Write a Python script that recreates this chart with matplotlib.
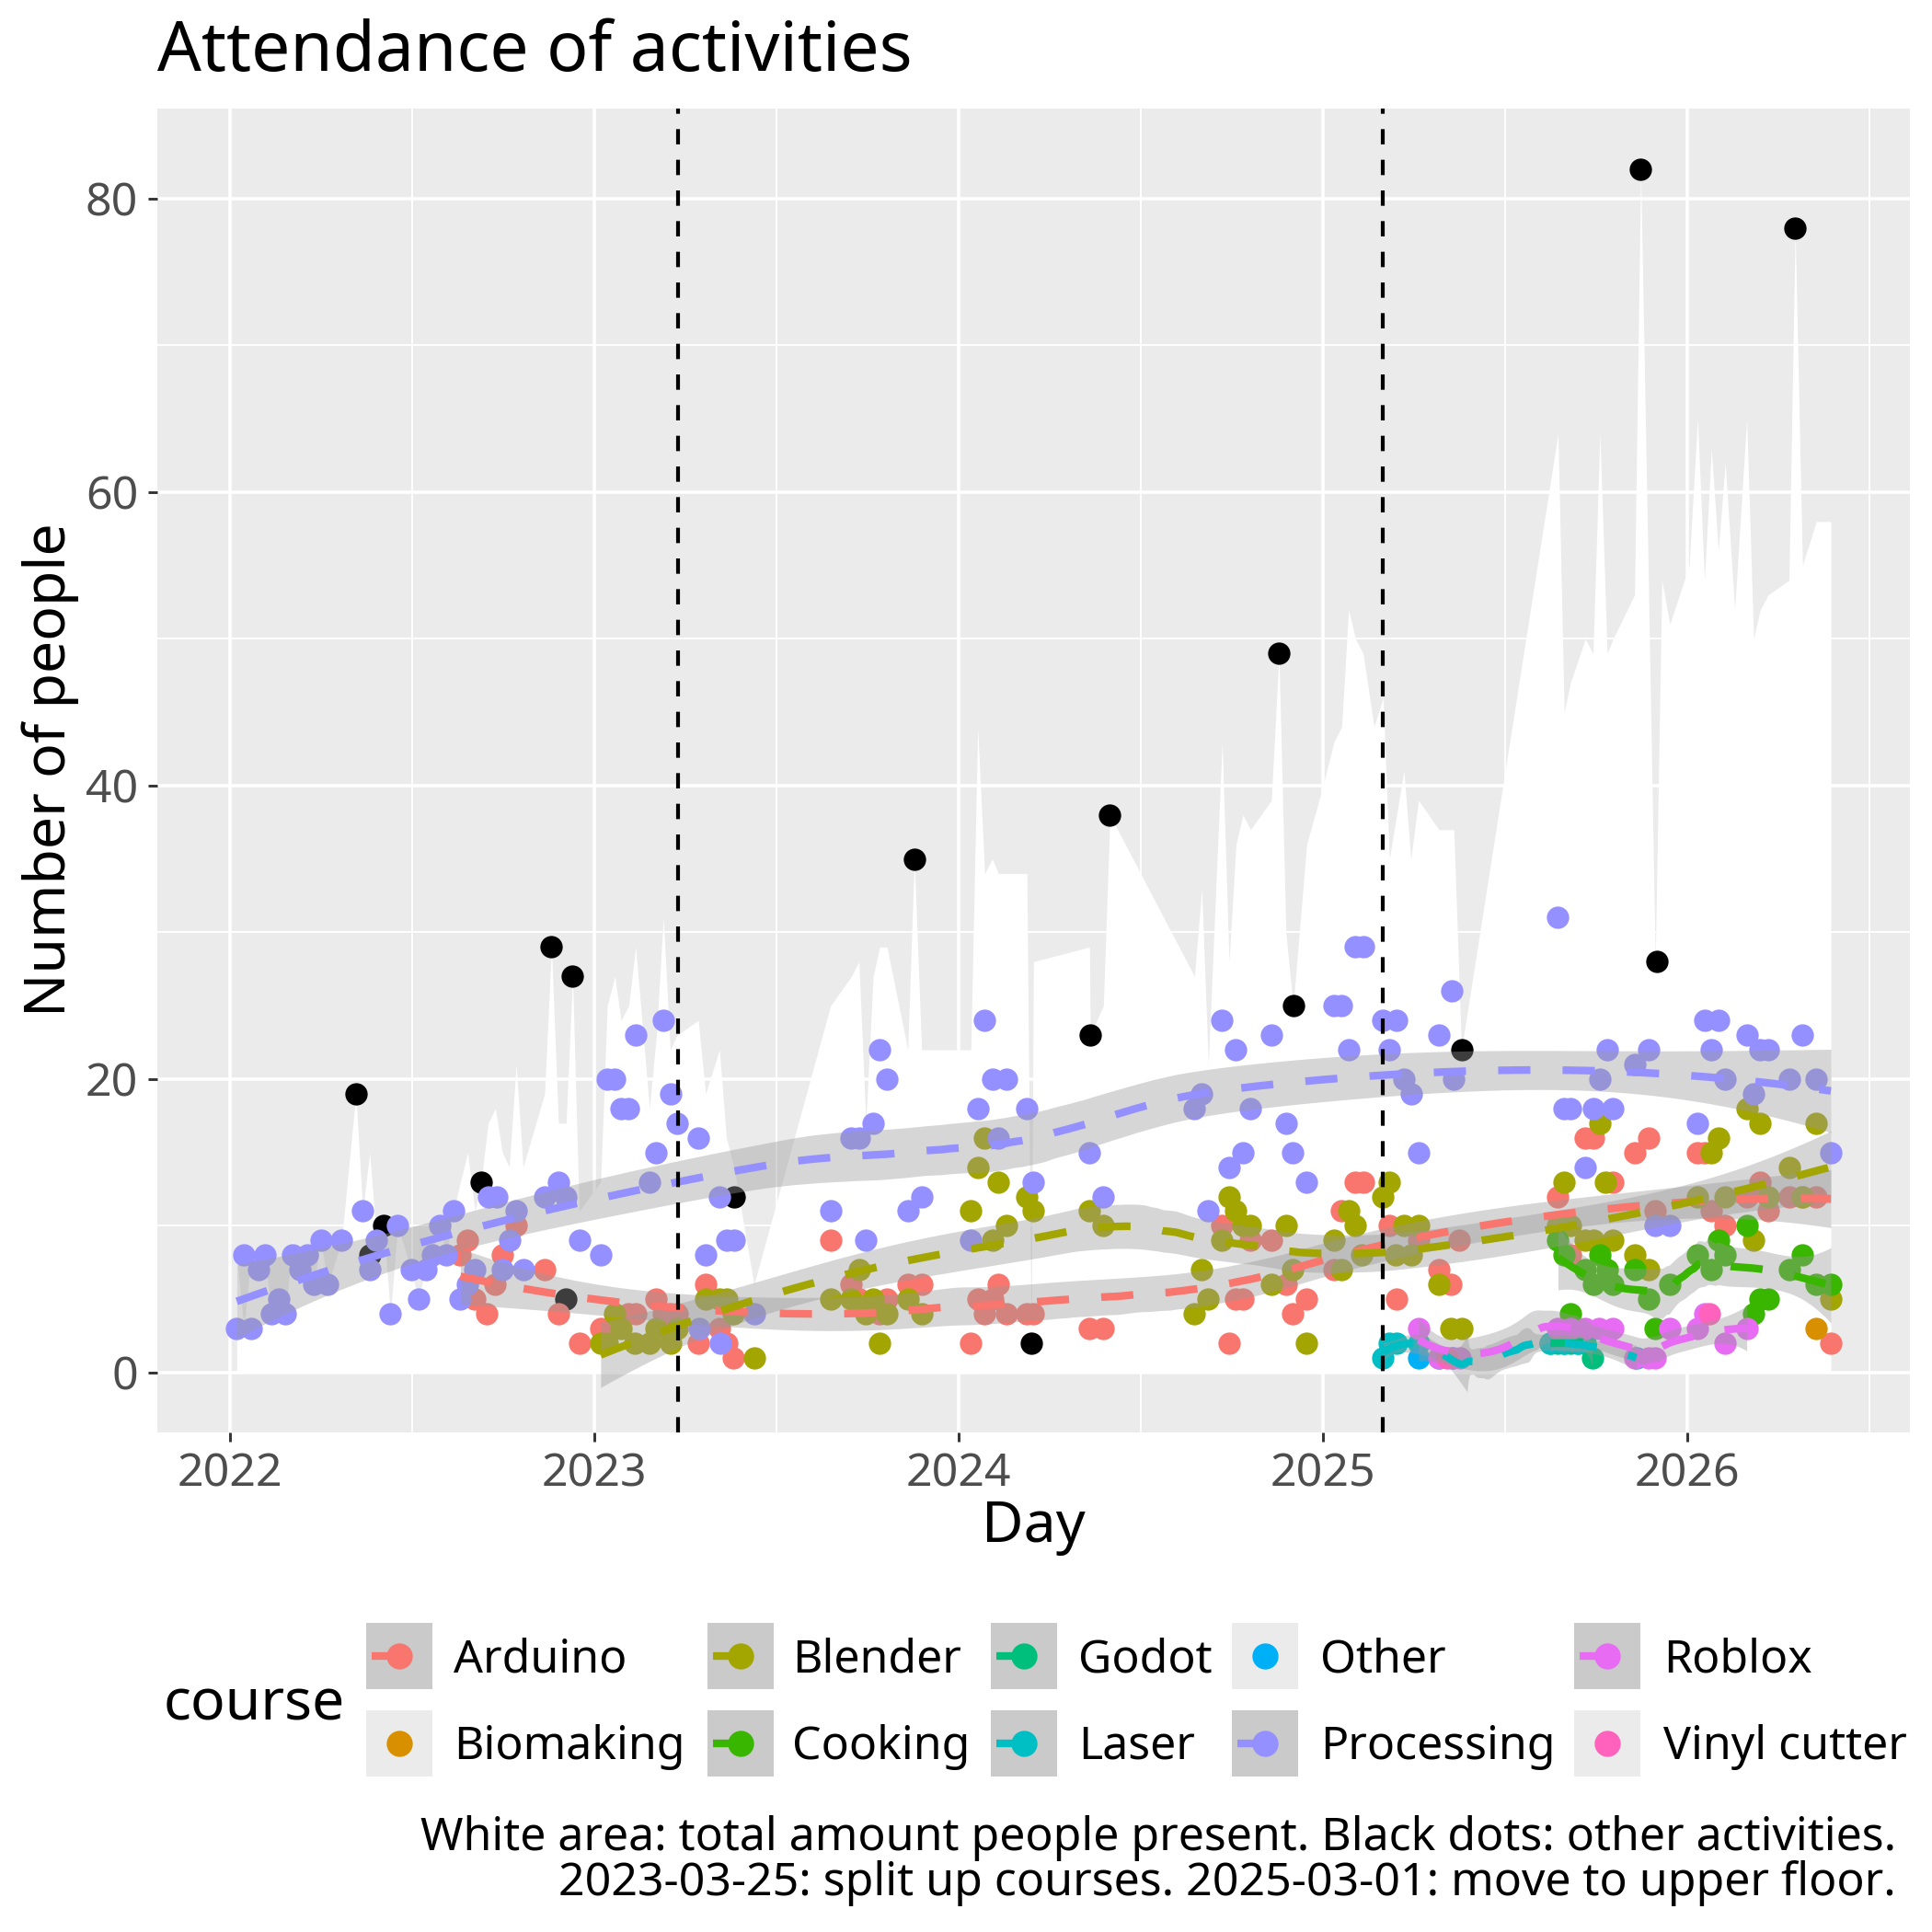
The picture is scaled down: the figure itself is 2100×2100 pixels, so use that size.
import numpy as np
import matplotlib
matplotlib.use("Agg")
import matplotlib.pyplot as plt
from matplotlib.patches import Rectangle
from matplotlib.lines import Line2D

plt.rcParams['font.family'] = ['Noto Sans', 'DejaVu Sans']

# ---------------- data (decimal year, number of people) ----------------
courses = ["Arduino", "Biomaking", "Blender", "Cooking", "Godot",
           "Laser", "Other", "Processing", "Roblox", "Vinyl cutter"]
colors = ["#F8766D", "#D89000", "#A3A500", "#39B600", "#00BF7D",
          "#00BFC4", "#00B0F6", "#9590FF", "#E76BF3", "#FF62BC"]
has_smooth = [True, False, True, True, True, True, False, True, True, False]

arduino_day = [2022.632, 2022.652, 2022.672, 2022.705, 2022.728, 2022.747, 2022.785, 2022.863,
               2022.901, 2022.960, 2023.017, 2023.035, 2023.093, 2023.113, 2023.170, 2023.189,
               2023.208, 2023.227, 2023.305, 2023.285, 2023.343, 2023.362, 2023.381,
               2023.648, 2023.705, 2023.726, 2023.783, 2023.803, 2023.860, 2023.898, 2024.033,
               2024.052, 2024.071, 2024.092, 2024.109, 2024.130, 2024.187, 2024.205, 2024.359,
               2024.397, 2024.723, 2024.761, 2024.780, 2024.742, 2024.801, 2024.858, 2024.898,
               2024.917, 2024.955, 2025.030, 2025.051, 2025.089, 2025.110, 2025.182, 2025.203,
               2025.262, 2025.318, 2025.350, 2025.374, 2025.645, 2025.720, 2025.741, 2025.679,
               2025.796, 2025.855, 2025.893, 2025.912, 2026.028, 2026.047, 2026.066, 2026.104,
               2026.163, 2026.200, 2026.222, 2026.279, 2026.316, 2026.354, 2026.394]
arduino_people = [8, 9, 5, 4, 6, 8, 10, 7,
                  4, 2, 3, 3, 4, 4, 5, 4,
                  4, 4, 6, 2, 3, 2, 1,
                  9, 6, 5, 4, 5, 6, 6, 2,
                  5, 4, 5, 6, 4, 4, 4, 3,
                  3, 10, 5, 5, 2, 9, 9, 6,
                  4, 5, 7, 11, 13, 13, 10, 5,
                  9, 7, 6, 9, 12, 16, 16, 8,
                  13, 15, 16, 11, 15, 15, 11, 10,
                  12, 13, 11, 12, 12, 12, 2]

biomaking_day = [2026.354]
biomaking_people = [3]

blender_day = [2023.017, 2023.035, 2023.055, 2023.073, 2023.111, 2023.151, 2023.170, 2023.208,
               2023.227, 2023.305, 2023.343, 2023.362, 2023.381, 2023.438,
               2023.648, 2023.705, 2023.726, 2023.745, 2023.765, 2023.803, 2023.783, 2023.860,
               2023.898, 2024.033, 2024.052, 2024.071, 2024.092, 2024.109, 2024.130, 2024.187,
               2024.205, 2024.359, 2024.397,
               2024.647, 2024.667, 2024.685, 2024.723, 2024.742, 2024.761, 2024.780, 2024.801,
               2024.858, 2024.898, 2024.917, 2024.955, 2025.030, 2025.051, 2025.070, 2025.089,
               2025.106, 2025.163, 2025.182, 2025.200, 2025.222, 2025.241, 2025.262, 2025.318,
               2025.350, 2025.380, 2025.645, 2025.662, 2025.679, 2025.720, 2025.741, 2025.760,
               2025.776, 2025.796, 2025.855, 2025.893, 2026.028, 2026.066, 2026.085, 2026.104,
               2026.163, 2026.182, 2026.200, 2026.222, 2026.279, 2026.316, 2026.354, 2026.394]
blender_people = [2, 2, 4, 3, 2, 2, 3, 2,
                  3, 5, 5, 5, 4, 1,
                  5, 5, 7, 4, 5, 4, 2, 5,
                  4, 11, 14, 16, 9, 13, 10, 12,
                  11, 11, 10,
                  4, 7, 5, 9, 12, 11, 10, 10,
                  6, 10, 7, 2, 9, 7, 11, 10,
                  8, 12, 13, 8, 10, 8, 10, 6,
                  3, 3, 10, 13, 10, 9, 9, 17,
                  13, 9, 8, 7, 12, 15, 16, 12,
                  18, 9, 17, 12, 14, 12, 17, 5]

cooking_day = [2025.645, 2025.662, 2025.679, 2025.720, 2025.741, 2025.760, 2025.780, 2025.796,
               2025.855, 2025.893, 2025.912, 2025.952, 2026.028, 2026.066, 2026.085, 2026.104,
               2026.163, 2026.182, 2026.200, 2026.222, 2026.279, 2026.316, 2026.354, 2026.394]
cooking_people = [9, 8, 4, 7, 6, 8, 7, 6,
                  7, 5, 3, 6, 8, 7, 9, 8,
                  10, 4, 5, 5, 7, 8, 6, 6]

godot_day = [2025.624, 2025.645, 2025.662, 2025.680, 2025.700, 2025.720, 2025.739]
godot_people = [2, 2, 2, 2, 2, 2, 1]

laser_day = [2025.165, 2025.182, 2025.203, 2025.262, 2025.318, 2025.357,
             2025.624, 2025.662, 2025.700, 2025.860]
laser_people = [1, 2, 2, 2, 1, 1,
                2, 2, 2, 1]

other_course_day = [2025.262]
other_course_people = [1]

processing_day = [2022.018, 2022.057, 2022.038, 2022.095, 2022.077, 2022.134, 2022.114, 2022.152,
                  2022.171, 2022.211, 2022.192, 2022.230, 2022.268, 2022.249, 2022.306, 2022.364,
                  2022.402, 2022.383, 2022.460, 2022.440, 2022.497, 2022.537, 2022.516, 2022.554,
                  2022.575, 2022.594, 2022.613, 2022.632, 2022.652, 2022.672, 2022.708, 2022.732,
                  2022.785, 2022.766, 2022.747, 2022.804, 2022.863, 2022.901, 2022.922, 2022.958,
                  2023.017, 2023.035, 2023.056, 2023.073, 2023.094, 2023.113, 2023.151, 2023.170,
                  2023.189, 2023.208, 2023.227, 2023.285, 2023.343, 2023.362, 2023.383, 2023.305,
                  2023.287, 2023.345, 2023.438,
                  2023.648, 2023.705, 2023.726, 2023.765, 2023.783, 2023.803, 2023.745, 2023.860,
                  2023.898, 2024.033, 2024.052, 2024.071, 2024.092, 2024.130, 2024.109, 2024.187,
                  2024.205, 2024.359, 2024.397,
                  2024.647, 2024.667, 2024.685, 2024.723, 2024.761, 2024.742, 2024.780, 2024.801,
                  2024.858, 2024.898, 2024.917, 2024.955, 2025.030, 2025.051, 2025.070, 2025.089,
                  2025.110, 2025.165, 2025.203, 2025.182, 2025.222, 2025.241, 2025.262, 2025.318,
                  2025.354, 2025.359,
                  2025.645, 2025.662, 2025.679, 2025.720, 2025.741, 2025.796, 2025.760, 2025.780,
                  2025.855, 2025.893, 2025.912, 2025.952, 2026.028, 2026.047, 2026.085, 2026.066,
                  2026.104, 2026.163, 2026.182, 2026.200, 2026.222, 2026.279, 2026.316, 2026.354,
                  2026.394]
processing_people = [3, 3, 8, 8, 7, 5, 4, 4,
                     8, 8, 7, 6, 6, 9, 9, 11,
                     9, 7, 10, 4, 7, 7, 5, 8,
                     10, 8, 11, 5, 6, 7, 12, 12,
                     11, 9, 7, 7, 12, 13, 12, 9,
                     8, 20, 20, 18, 18, 23, 13, 15,
                     24, 19, 17, 16, 12, 9, 9, 8,
                     3, 2, 4,
                     11, 16, 16, 17, 22, 20, 9, 11,
                     12, 9, 18, 24, 20, 20, 16, 18,
                     13, 15, 12,
                     18, 19, 11, 24, 22, 14, 15, 18,
                     23, 17, 15, 13, 25, 25, 22, 29,
                     29, 24, 24, 22, 20, 19, 15, 23,
                     26, 20,
                     31, 18, 18, 14, 18, 18, 20, 22,
                     21, 22, 10, 10, 17, 24, 24, 22,
                     20, 23, 19, 22, 22, 20, 23, 20,
                     15]

roblox_day = [2025.262, 2025.318, 2025.357, 2025.375, 2025.645, 2025.679, 2025.720, 2025.758,
              2025.796, 2025.855, 2025.893, 2025.912, 2025.952, 2026.028, 2026.047, 2026.104,
              2026.163]
roblox_people = [3, 1, 1, 1, 3, 3, 3, 3,
                 3, 1, 1, 1, 3, 3, 4, 2,
                 3]

vinyl_day = [2025.340, 2026.060]
vinyl_people = [1, 4]

course_days = [arduino_day, biomaking_day, blender_day, cooking_day, godot_day,
               laser_day, other_course_day, processing_day, roblox_day, vinyl_day]
course_people = [arduino_people, biomaking_people, blender_people, cooking_people, godot_people,
                 laser_people, other_course_people, processing_people, roblox_people, vinyl_people]

# other activities (black dots)
activity_day = [2022.345, 2022.383, 2022.421, 2022.689, 2022.882, 2022.922, 2022.940, 2023.383,
                2023.878, 2024.199, 2024.361, 2024.415, 2024.879, 2024.918, 2025.380, 2025.872,
                2025.916, 2026.296]
activity_people = [19, 8, 10, 13, 29, 5, 27, 12,
                   35, 2, 23, 38, 49, 25, 22, 82,
                   28, 78]

# total amount of people present (white area)
total_day = [2022.018, 2022.038, 2022.057, 2022.077, 2022.095, 2022.114, 2022.134, 2022.152,
             2022.171, 2022.192, 2022.211, 2022.230, 2022.249, 2022.268, 2022.306, 2022.345,
             2022.364, 2022.383, 2022.402, 2022.421, 2022.440, 2022.460, 2022.497, 2022.516,
             2022.537, 2022.554, 2022.575, 2022.594, 2022.613, 2022.632, 2022.652, 2022.672,
             2022.689, 2022.708, 2022.728, 2022.747, 2022.766, 2022.785, 2022.804, 2022.863,
             2022.882, 2022.901, 2022.922, 2022.940, 2022.958, 2023.017, 2023.035, 2023.056,
             2023.073, 2023.094, 2023.113, 2023.151, 2023.170, 2023.189, 2023.208, 2023.227,
             2023.285, 2023.305, 2023.343, 2023.362, 2023.383, 2023.438, 2023.648, 2023.705,
             2023.726, 2023.745, 2023.765, 2023.783, 2023.803, 2023.860, 2023.878, 2023.898,
             2024.033, 2024.052, 2024.071, 2024.092, 2024.109, 2024.130, 2024.187, 2024.199,
             2024.205, 2024.359, 2024.361, 2024.397, 2024.415, 2024.647, 2024.667, 2024.685,
             2024.723, 2024.742, 2024.761, 2024.780, 2024.801, 2024.858, 2024.879, 2024.898,
             2024.918, 2024.955, 2025.000, 2025.030, 2025.051, 2025.070, 2025.089, 2025.110,
             2025.140, 2025.165, 2025.182, 2025.222, 2025.241, 2025.262, 2025.318, 2025.359,
             2025.380, 2025.645, 2025.662, 2025.679, 2025.720, 2025.741, 2025.760, 2025.780,
             2025.796, 2025.855, 2025.872, 2025.893, 2025.912, 2025.930, 2025.952, 2026.005,
             2026.028, 2026.047, 2026.066, 2026.085, 2026.104, 2026.130, 2026.163, 2026.182,
             2026.200, 2026.222, 2026.279, 2026.296, 2026.316, 2026.354, 2026.394]
total_people = [8, 3, 8, 7, 8, 4, 5, 4,
                9, 7, 8, 6, 9, 6, 9, 19,
                11, 15, 9, 10, 4, 10, 7, 5,
                7, 8, 10, 8, 11, 13, 15, 11,
                13, 17, 18, 15, 14, 21, 14, 19,
                29, 17, 17, 27, 11, 13, 25, 27,
                24, 25, 29, 18, 23, 31, 22, 23,
                24, 19, 22, 16, 14, 6, 25, 27,
                28, 17, 27, 29, 29, 22, 35, 22,
                22, 44, 34, 35, 34, 34, 34, 2,
                28, 29, 23, 25, 38, 27, 33, 21,
                43, 28, 36, 38, 37, 39, 49, 30,
                25, 36, 40, 43, 44, 52, 50, 49,
                44, 46, 35, 41, 35, 39, 37, 37,
                22, 64, 45, 47, 50, 49, 64, 49,
                50, 53, 82, 54, 28, 54, 51, 55,
                65, 54, 63, 56, 62, 52, 65, 50,
                52, 53, 54, 78, 55, 58, 58]

split_day = 2023.23    # 2023-03-25
move_day = 2025.165    # 2025-03-01


# ---------------- loess (as geom_smooth: span 0.75, degree 2) ----------------
def t975(df):
    z = 1.959964
    if df < 1:
        return 12.7
    g1 = (z**3 + z) / 4
    g2 = (5 * z**5 + 16 * z**3 + 3 * z) / 96
    g3 = (3 * z**7 + 19 * z**5 + 17 * z**3 - 15 * z) / 384
    return min(z + g1 / df + g2 / df**2 + g3 / df**3, 12.7)


def loess(x, y, grid, span=0.75):
    x = np.asarray(x, float)
    y = np.asarray(y, float)
    n = len(x)
    q = min(n, max(int(np.floor(n * span)), 3))

    def lrow(x0):
        d = np.abs(x - x0)
        h = max(np.sort(d)[q - 1], 1e-9)
        u = d / h
        w = np.where(u < 1, (1 - u**3)**3, 0.0)
        X = np.column_stack([np.ones(n), x - x0, (x - x0)**2])
        XtW = X.T * w
        return np.linalg.pinv(XtW @ X)[0] @ XtW

    Lg = np.array([lrow(g) for g in grid])
    Ld = np.array([lrow(v) for v in x])
    fit = Lg @ y
    R = np.eye(n) - Ld
    RtR = R.T @ R
    d1 = np.trace(RtR)
    d2 = np.trace(RtR @ RtR)
    res = R @ y
    sigma = np.sqrt(np.sum(res**2) / d1) if d1 > 1e-9 else 0.0
    se = sigma * np.sqrt(np.sum(Lg**2, axis=1))
    t = t975(d1**2 / d2) if d2 > 1e-9 else 12.7
    return fit, fit - t * se, fit + t * se


# ---------------- figure ----------------
W = 2100


def fx(px):
    return px / W


def fy(py):
    return 1 - py / W


fig = plt.figure(figsize=(7, 7), dpi=300)
ax = fig.add_axes([fx(171), fy(1557), fx(2076) - fx(171), fy(118) - fy(1557)])
ax.set_facecolor("#EBEBEB")
for s in ax.spines.values():
    s.set_visible(False)

ax.fill_between(total_day, 0, total_people, color="white", lw=0, zorder=1)
ax.scatter(activity_day, activity_people, s=34, c="black", lw=0, zorder=2)
for days, people, col in zip(course_days, course_people, colors):
    ax.scatter(days, people, s=34, c=col, lw=0, zorder=3)

for days, people, col, sm in zip(course_days, course_people, colors, has_smooth):
    if not sm:
        continue
    grid = np.linspace(min(days), max(days), 200)
    fit, lo, hi = loess(days, people, grid)
    ax.fill_between(grid, lo, hi, color="#999999", alpha=0.4, lw=0, zorder=4)
    ax.plot(grid, fit, color=col, lw=2.0, ls=(0, (4.2, 4.2)), zorder=5)

ax.axvline(split_day, color="black", lw=1.0, ls=(0, (4, 4)), zorder=6)
ax.axvline(move_day, color="black", lw=1.0, ls=(0, (4, 4)), zorder=6)

ax.set_xlim(2021.80, 2026.611)
ax.set_ylim(-4.08, 86.14)
ax.set_xticks([2022, 2023, 2024, 2025, 2026])
ax.set_xticklabels(["2022", "2023", "2024", "2025", "2026"])
ax.set_xticks([2022.5, 2023.5, 2024.5, 2025.5, 2026.5], minor=True)
ax.set_yticks([0, 20, 40, 60, 80])
ax.set_yticks([10, 30, 50, 70], minor=True)
ax.set_axisbelow(True)
ax.grid(which="major", color="white", lw=0.85)
ax.grid(which="minor", color="white", lw=0.45)
ax.tick_params(which="major", length=2.4, width=0.7, color="#333333",
               labelsize=12, labelcolor="#4D4D4D", pad=2.6)
ax.tick_params(which="minor", length=0)

# titles
fig.text(fx(171), fy(77), "Attendance of activities", fontsize=18, va="baseline", ha="left")
fig.text(fx(1123), fy(1676), "Day", fontsize=15, va="baseline", ha="center")
fig.text(fx(71), fy(837), "Number of people", fontsize=15, rotation=90,
         rotation_mode="anchor", ha="center", va="baseline")

# legend
fig.text(fx(178), fy(1870), "course", fontsize=15, va="baseline", ha="left")
key_left = [398, 769, 1077, 1339, 1711]
text_left = [493, 861, 1172, 1435, 1808]
row_top = [1764, 1859]
row_base = [1817, 1912]
K = 72
for i, (name, col, sm) in enumerate(zip(courses, colors, has_smooth)):
    c, r = i // 2, i % 2
    kx, ky = key_left[c], row_top[r]
    fig.add_artist(Rectangle((fx(kx), fy(ky + K)), K / W, K / W, transform=fig.transFigure,
                             facecolor="#EBEBEB", lw=0))
    fig.add_artist(Line2D([fx(kx + K / 2)], [fy(ky + K / 2)], marker="o", ms=5.8, color=col,
                          lw=0, transform=fig.transFigure))
    if sm:
        fig.add_artist(Rectangle((fx(kx), fy(ky + K)), K / W, K / W, transform=fig.transFigure,
                                 facecolor="#999999", alpha=0.4, lw=0))
        fig.add_artist(Line2D([fx(kx + 6), fx(kx + 43)], [fy(ky + K / 2)] * 2, color=col, lw=2.0,
                              solid_capstyle="butt", transform=fig.transFigure))
    fig.text(fx(text_left[c]), fy(row_base[r]), name, fontsize=12, va="baseline", ha="left")

# caption
fig.text(fx(2061), fy(2011), "White area: total amount people present. Black dots: other activities.",
         fontsize=12, ha="right", va="baseline")
fig.text(fx(2061), fy(2060), "2023-03-25: split up courses. 2025-03-01: move to upper floor.",
         fontsize=12, ha="right", va="baseline")

fig.savefig("out.png", dpi=300)
